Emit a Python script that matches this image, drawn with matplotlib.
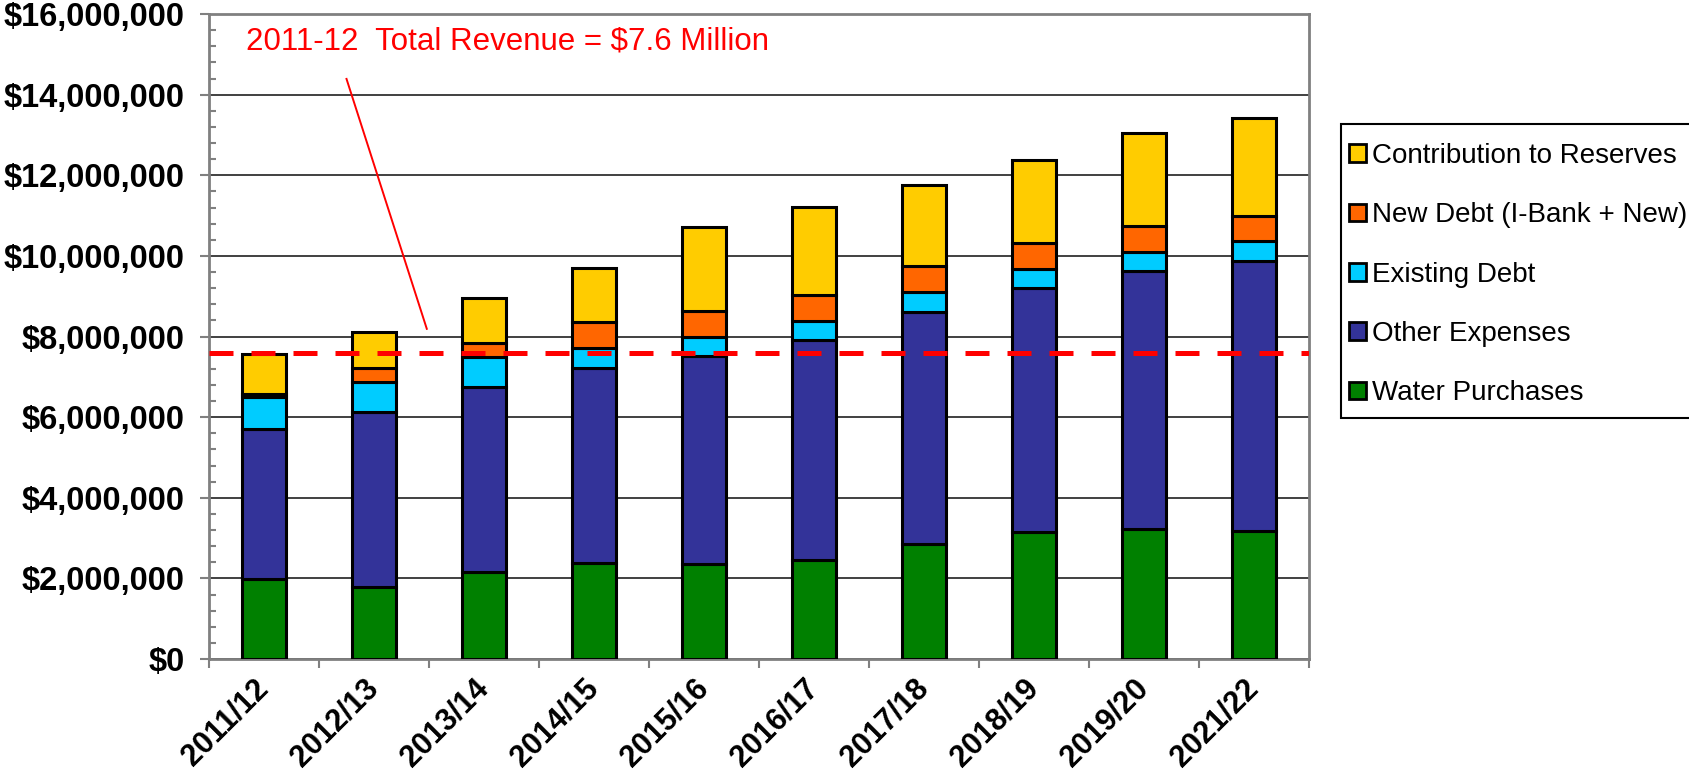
import matplotlib
matplotlib.use('Agg')
import matplotlib.pyplot as plt
from matplotlib.patches import Patch, Rectangle
import numpy as np

years = ['2011/12', '2012/13', '2013/14', '2014/15', '2015/16',
         '2016/17', '2017/18', '2018/19', '2019/20', '2021/22']

# dollars, stacked bottom -> top
water = [1.98e6, 1.78e6, 2.17e6, 2.37e6, 2.36e6, 2.45e6, 2.85e6, 3.15e6, 3.23e6, 3.17e6]
other = [3.73e6, 4.34e6, 4.57e6, 4.86e6, 5.15e6, 5.47e6, 5.77e6, 6.05e6, 6.39e6, 6.71e6]
existing_debt = [0.78e6, 0.74e6, 0.76e6, 0.48e6, 0.48e6, 0.47e6, 0.48e6, 0.48e6, 0.47e6, 0.48e6]
new_debt = [0.09e6, 0.35e6, 0.35e6, 0.65e6, 0.65e6, 0.64e6, 0.65e6, 0.65e6, 0.65e6, 0.63e6]
reserves = [0.99e6, 0.89e6, 1.10e6, 1.33e6, 2.07e6, 2.19e6, 2.00e6, 2.06e6, 2.30e6, 2.42e6]

series = [
    ('Water Purchases', water, '#008000'),
    ('Other Expenses', other, '#333399'),
    ('Existing Debt', existing_debt, '#00CCFF'),
    ('New Debt (I-Bank + New)', new_debt, '#FF6600'),
    ('Contribution to Reserves', reserves, '#FFCC00'),
]

revenue_2011 = 7.6e6
note = '2011-12  Total Revenue = $7.6 Million'
pointer_x = [0.75, 1.48]
pointer_y = [14.39e6, 8.19e6]

W, H = 1690, 782
fig = plt.figure(figsize=(W / 100, H / 100), dpi=100)
ax = fig.add_axes([209 / W, (H - 659) / H, 1100 / W, 645 / H])

x = np.arange(len(years))
bottom = np.zeros(len(years))
for name, vals, col in series:
    ax.bar(x, vals, width=0.4, bottom=bottom, color=col, edgecolor='black',
           linewidth=2.2, zorder=3)
    bottom += np.array(vals)

ax.set_xlim(-0.5, len(years) - 0.5)
ax.set_ylim(0, 16e6)

ax.axhline(revenue_2011, color='#FF0000', lw=3.6, dashes=(4.8, 3.6), zorder=4)
ax.plot(pointer_x, pointer_y, color='#FF0000', lw=1.4, zorder=4)
ax.text(-0.164, 15.33e6, note, color='#FF0000', fontsize=22.5,
        family='Liberation Sans', va='center', ha='left')

# y axis
ax.set_yticks(np.arange(0, 16.01e6, 2e6))
ax.set_yticks(np.arange(0, 16.01e6, 0.4e6), minor=True)
ax.set_yticklabels(['${:,.0f}'.format(v) for v in np.arange(0, 16.01e6, 2e6)],
                   fontsize=23.5, fontweight='bold', family='Liberation Sans')
ax.tick_params(axis='y', which='major', direction='out', length=6.5, width=1.5,
               color='#808080', pad=11)
ax.tick_params(axis='y', which='minor', direction='in', length=5, width=1.5,
               color='#808080')
ax.grid(axis='y', which='major', color='#202020', lw=1.2, zorder=0)

# x axis: ticks on boundaries, labels under bars
ax.set_xticks(np.arange(-0.5, len(years), 1.0))
ax.set_xticklabels([])
ax.set_xticks(x, minor=True)
ax.set_xticklabels(years, minor=True, rotation=45, ha='right', va='center',
                   rotation_mode='anchor', fontsize=22, fontweight='bold',
                   family='Liberation Sans')
ax.tick_params(axis='x', which='major', direction='out', length=6.5, width=1.5,
               color='#808080')
ax.tick_params(axis='x', which='minor', length=0, pad=18)

for s in ax.spines.values():
    s.set_color('#808080')
    s.set_linewidth(2)

# legend frame runs off the right edge like the original
fig.patches.append(Rectangle((1341 / W, 1 - 418 / H), 400 / W, 294 / H,
                             transform=fig.transFigure, facecolor='white',
                             edgecolor='black', linewidth=1.5, zorder=1))
handles = [Patch(facecolor=col, edgecolor='black', linewidth=2, label=name)
           for name, vals, col in series][::-1]
leg = fig.legend(handles=handles, loc='upper left',
                 bbox_to_anchor=(1349 / W, 1 - 143 / H), frameon=False,
                 prop={'family': 'Liberation Sans', 'size': 20},
                 handlelength=0.6, handleheight=0.6, handletextpad=0.22,
                 labelspacing=1.2, borderpad=0, borderaxespad=0)
leg.set_zorder(2)

fig.savefig('out.png', dpi=100)
